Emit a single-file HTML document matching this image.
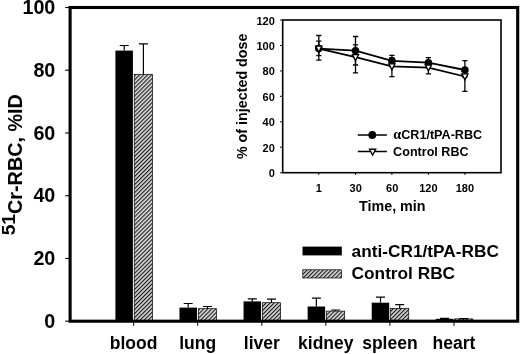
<!DOCTYPE html>
<html><head><meta charset="utf-8"><title>Chart</title><style>html,body{margin:0;padding:0;background:#fff}body{width:520px;height:354px;overflow:hidden}</style></head><body>
<svg width="520" height="354" viewBox="0 0 520 354" style="display:block;will-change:transform" font-family="'Liberation Sans', sans-serif" font-weight="bold" fill="#000">
<defs><pattern id="h" width="2.85" height="2.85" patternUnits="userSpaceOnUse" patternTransform="rotate(-45)"><rect width="3" height="3" fill="#dadada"/><rect width="3" height="1.12" fill="#1a1a1a"/></pattern></defs>
<rect width="520" height="354" fill="#fff"/>
<rect x="115.40" y="50.6" width="17.5" height="270.6" fill="#000"/>
<path d="M124.2 50.6V45.5M119.7 45.5H128.7" stroke="#000" stroke-width="1.2" fill="none"/>
<rect x="134.25" y="74.3" width="18.2" height="246.9" fill="url(#h)" stroke="#000" stroke-width="0.7"/>
<path d="M143.4 74.3V43.9M138.9 43.9H147.9" stroke="#000" stroke-width="1.2" fill="none"/>
<rect x="179.48" y="307.6" width="17.5" height="13.6" fill="#000"/>
<path d="M188.2 307.6V303.5M183.7 303.5H192.7" stroke="#000" stroke-width="1.2" fill="none"/>
<rect x="198.33" y="308.7" width="18.2" height="12.5" fill="url(#h)" stroke="#000" stroke-width="0.7"/>
<path d="M207.5 308.7V306.5M203.0 306.5H212.0" stroke="#000" stroke-width="1.2" fill="none"/>
<rect x="243.56" y="301.4" width="17.5" height="19.8" fill="#000"/>
<path d="M252.3 301.4V298.9M247.8 298.9H256.8" stroke="#000" stroke-width="1.2" fill="none"/>
<rect x="262.41" y="302.7" width="18.2" height="18.5" fill="url(#h)" stroke="#000" stroke-width="0.7"/>
<path d="M271.5 302.7V299.2M267.0 299.2H276.0" stroke="#000" stroke-width="1.2" fill="none"/>
<rect x="307.64" y="306.5" width="17.5" height="14.7" fill="#000"/>
<path d="M316.4 306.5V298.1M311.9 298.1H320.9" stroke="#000" stroke-width="1.2" fill="none"/>
<rect x="326.49" y="311.1" width="18.2" height="10.1" fill="url(#h)" stroke="#000" stroke-width="0.7"/>
<path d="M335.6 311.1V310.0M331.1 310.0H340.1" stroke="#000" stroke-width="1.2" fill="none"/>
<rect x="371.72" y="302.7" width="17.5" height="18.5" fill="#000"/>
<path d="M380.5 302.7V297.1M376.0 297.1H385.0" stroke="#000" stroke-width="1.2" fill="none"/>
<rect x="390.57" y="308.4" width="18.2" height="12.8" fill="url(#h)" stroke="#000" stroke-width="0.7"/>
<path d="M399.7 308.4V304.6M395.2 304.6H404.2" stroke="#000" stroke-width="1.2" fill="none"/>
<rect x="435.80" y="318.8" width="17.5" height="2.4" fill="#000"/>
<path d="M444.6 318.8V318.4M440.1 318.4H449.1" stroke="#000" stroke-width="1.2" fill="none"/>
<rect x="454.65" y="318.9" width="18.2" height="2.3" fill="url(#h)" stroke="#000" stroke-width="0.7"/>
<path d="M463.8 318.9V318.6M459.3 318.6H468.3" stroke="#000" stroke-width="1.2" fill="none"/>
<rect x="70.1" y="7.5" width="447.6" height="313.7" fill="none" stroke="#000" stroke-width="3.1"/>
<path d="M65.2 321.2H70.1" stroke="#000" stroke-width="1.1"/>
<text x="55.3" y="327.9" font-size="19.7" text-anchor="end">0</text>
<path d="M65.2 258.5H70.1" stroke="#000" stroke-width="1.1"/>
<text x="55.3" y="265.2" font-size="19.7" text-anchor="end">20</text>
<path d="M65.2 195.7H70.1" stroke="#000" stroke-width="1.1"/>
<text x="55.3" y="202.4" font-size="19.7" text-anchor="end">40</text>
<path d="M65.2 133.0H70.1" stroke="#000" stroke-width="1.1"/>
<text x="55.3" y="139.7" font-size="19.7" text-anchor="end">60</text>
<path d="M65.2 70.2H70.1" stroke="#000" stroke-width="1.1"/>
<text x="55.3" y="76.9" font-size="19.7" text-anchor="end">80</text>
<path d="M65.2 7.5H70.1" stroke="#000" stroke-width="1.1"/>
<text x="55.3" y="14.2" font-size="19.7" text-anchor="end">100</text>
<path d="M133.6 321.2V325.8" stroke="#000" stroke-width="1.0"/>
<text x="133.6" y="349.4" font-size="17.5" text-anchor="middle">blood</text>
<path d="M197.7 321.2V325.8" stroke="#000" stroke-width="1.0"/>
<text x="197.7" y="349.4" font-size="17.5" text-anchor="middle">lung</text>
<path d="M261.8 321.2V325.8" stroke="#000" stroke-width="1.0"/>
<text x="261.8" y="349.4" font-size="17.5" text-anchor="middle">liver</text>
<path d="M325.8 321.2V325.8" stroke="#000" stroke-width="1.0"/>
<text x="325.8" y="349.4" font-size="17.5" text-anchor="middle">kidney</text>
<path d="M389.9 321.2V325.8" stroke="#000" stroke-width="1.0"/>
<text x="389.9" y="349.4" font-size="17.5" text-anchor="middle">spleen</text>
<path d="M454.0 321.2V325.8" stroke="#000" stroke-width="1.0"/>
<text x="454.0" y="349.4" font-size="17.5" text-anchor="middle">heart</text>
<text transform="translate(22,235.3) rotate(-90)" font-size="19.8"><tspan dy="-7.2" font-size="19.2">51</tspan><tspan dy="7.2">Cr-RBC, %ID</tspan></text>
<rect x="302.5" y="246.6" width="39.3" height="8.8" fill="#000"/>
<rect x="302.8" y="269.8" width="38.8" height="8.2" fill="url(#h)" stroke="#000" stroke-width="0.7"/>
<text x="351.6" y="257" font-size="17.25">anti-CR1/tPA-RBC</text>
<text x="351.6" y="279" font-size="17.25">Control RBC</text>
<rect x="282.7" y="20.0" width="218.3" height="152.7" fill="#fff" stroke="#000" stroke-width="1.6"/>
<path d="M280.2 172.7H282.7" stroke="#000" stroke-width="1.1"/>
<text x="274.8" y="177.2" font-size="11" text-anchor="end">0</text>
<path d="M280.2 147.2H282.7" stroke="#000" stroke-width="1.1"/>
<text x="274.8" y="151.8" font-size="11" text-anchor="end">20</text>
<path d="M280.2 121.8H282.7" stroke="#000" stroke-width="1.1"/>
<text x="274.8" y="126.3" font-size="11" text-anchor="end">40</text>
<path d="M280.2 96.3H282.7" stroke="#000" stroke-width="1.1"/>
<text x="274.8" y="100.8" font-size="11" text-anchor="end">60</text>
<path d="M280.2 70.9H282.7" stroke="#000" stroke-width="1.1"/>
<text x="274.8" y="75.4" font-size="11" text-anchor="end">80</text>
<path d="M280.2 45.5H282.7" stroke="#000" stroke-width="1.1"/>
<text x="274.8" y="50.0" font-size="11" text-anchor="end">100</text>
<path d="M280.2 20.0H282.7" stroke="#000" stroke-width="1.1"/>
<text x="274.8" y="24.5" font-size="11" text-anchor="end">120</text>
<text x="318.8" y="192" font-size="11" text-anchor="middle">1</text>
<text x="355.7" y="192" font-size="11" text-anchor="middle">30</text>
<text x="392.2" y="192" font-size="11" text-anchor="middle">60</text>
<text x="428.4" y="192" font-size="11" text-anchor="middle">120</text>
<text x="464.9" y="192" font-size="11" text-anchor="middle">180</text>
<path d="M318.8 172.7V174.89999999999998" stroke="#000" stroke-width="1"/>
<path d="M355.5 172.7V174.89999999999998" stroke="#000" stroke-width="1"/>
<path d="M391.9 172.7V174.89999999999998" stroke="#000" stroke-width="1"/>
<path d="M428.4 172.7V174.89999999999998" stroke="#000" stroke-width="1"/>
<path d="M464.9 172.7V174.89999999999998" stroke="#000" stroke-width="1"/>
<text x="392.3" y="211.2" font-size="14.3" text-anchor="middle">Time, min</text>
<text transform="translate(246.9,96.3) rotate(-90)" font-size="14.3" text-anchor="middle">% of injected dose</text>
<path d="M318.8 41.2V55.6M316.2 41.2H321.40000000000003M316.2 55.6H321.40000000000003" stroke="#000" stroke-width="1.3" fill="none"/>
<path d="M355.5 36.5V65.0M352.9 36.5H358.1M352.9 65.0H358.1" stroke="#000" stroke-width="1.3" fill="none"/>
<path d="M391.9 55.3V66.5M389.29999999999995 55.3H394.5M389.29999999999995 66.5H394.5" stroke="#000" stroke-width="1.3" fill="none"/>
<path d="M428.4 57.7V67.5M425.79999999999995 57.7H431.0M425.79999999999995 67.5H431.0" stroke="#000" stroke-width="1.3" fill="none"/>
<path d="M464.9 60.7V77.0M462.29999999999995 60.7H467.5M462.29999999999995 77.0H467.5" stroke="#000" stroke-width="1.3" fill="none"/>
<path d="M318.8 35.5V60.2M316.2 35.5H321.40000000000003M316.2 60.2H321.40000000000003" stroke="#000" stroke-width="1.3" fill="none"/>
<path d="M355.5 44.8V72.8M352.9 44.8H358.1M352.9 72.8H358.1" stroke="#000" stroke-width="1.3" fill="none"/>
<path d="M391.9 58.0V76.6M389.29999999999995 58.0H394.5M389.29999999999995 76.6H394.5" stroke="#000" stroke-width="1.3" fill="none"/>
<path d="M428.4 62.0V73.9M425.79999999999995 62.0H431.0M425.79999999999995 73.9H431.0" stroke="#000" stroke-width="1.3" fill="none"/>
<path d="M464.9 68.0V91.3M462.29999999999995 68.0H467.5M462.29999999999995 91.3H467.5" stroke="#000" stroke-width="1.3" fill="none"/>
<polyline fill="none" stroke="#000" stroke-width="1.8" points="318.8,48.6 355.5,50.7 391.9,60.8 428.4,62.7 464.9,70.0"/>
<polyline fill="none" stroke="#000" stroke-width="1.8" points="318.8,48.7 355.5,57.2 391.9,66.4 428.4,67.6 464.9,76.5"/>
<circle cx="318.8" cy="48.6" r="3.8"/>
<circle cx="355.5" cy="50.7" r="3.8"/>
<circle cx="391.9" cy="60.8" r="3.8"/>
<circle cx="428.4" cy="62.7" r="3.8"/>
<circle cx="464.9" cy="70.0" r="3.8"/>
<path d="M315.7 46.1H321.9L318.8 52.0Z" fill="#fff" stroke="#000" stroke-width="1.35" stroke-linejoin="miter"/>
<path d="M352.4 54.6H358.6L355.5 60.5Z" fill="#fff" stroke="#000" stroke-width="1.35" stroke-linejoin="miter"/>
<path d="M388.8 63.8H395.0L391.9 69.7Z" fill="#fff" stroke="#000" stroke-width="1.35" stroke-linejoin="miter"/>
<path d="M425.3 65.0H431.5L428.4 70.9Z" fill="#fff" stroke="#000" stroke-width="1.35" stroke-linejoin="miter"/>
<path d="M461.8 73.9H468.0L464.9 79.8Z" fill="#fff" stroke="#000" stroke-width="1.35" stroke-linejoin="miter"/>
<path d="M357.8 135H386.9M357.8 151.5H386.9" stroke="#000" stroke-width="1.6"/>
<circle cx="372.3" cy="135" r="3.9"/>
<path d="M369.5 149.2H375.7L372.6 155.1Z" fill="#fff" stroke="#000" stroke-width="1.35" stroke-linejoin="miter"/>
<text x="393.3" y="139.4" font-size="12.6"><tspan font-family="'Liberation Serif', serif" font-weight="bold" font-size="14.2">α</tspan>CR1/tPA-RBC</text>
<text x="393.1" y="156.1" font-size="12.6">Control RBC</text>
</svg>
</body></html>
